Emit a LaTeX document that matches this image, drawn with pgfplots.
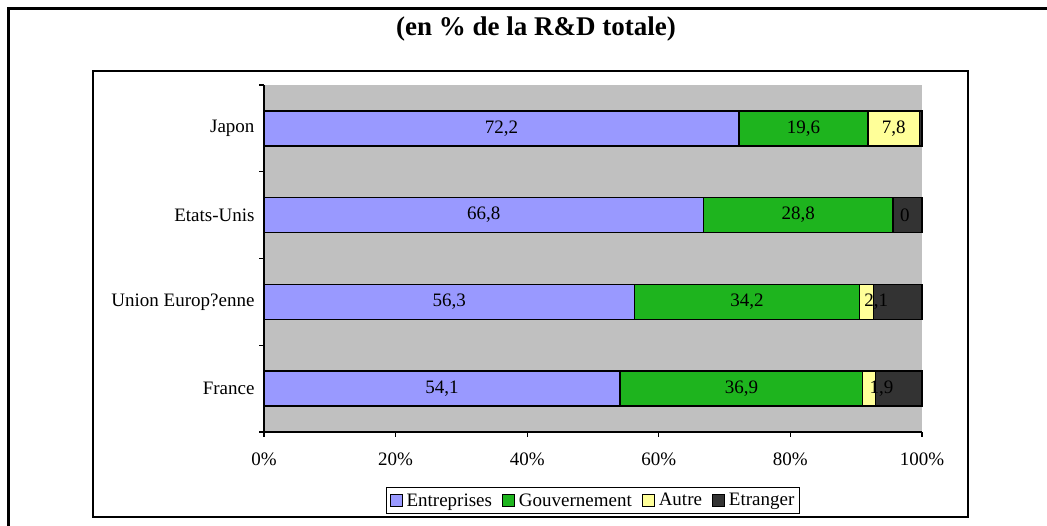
\documentclass[border=0pt]{standalone}
\usepackage{fontspec}
\setmainfont{Liberation Serif}
\usepackage{pgfplots}
\pgfplotsset{compat=1.18}
\usepackage{pgfplotstable}

\definecolor{ent}{HTML}{9999FF}
\definecolor{gov}{HTML}{1EB41E}
\definecolor{aut}{HTML}{FFFF99}
\definecolor{etr}{HTML}{333333}
\definecolor{plotbg}{HTML}{C0C0C0}

% y: 0 = France ... 3 = Japon ; dx = sideways nudge (in %) of the Autre label
\pgfplotstableread{
y ent gov aut etr dx
0 54.1 36.9 1.9 7.1 1.9
1 56.3 34.2 2.1 7.4 1.5
2 66.8 28.8 0.0 4.4 1.8
3 72.2 19.6 7.8 0.4 0
}\rd

\newcommand\lbl{\fontsize{19}{22}\selectfont}

\pgfplotsset{
  frame/.style={
    at={(264pt,94pt)}, anchor=south west,
    scale only axis,
    width=658pt, height=347pt,
    xmin=0, xmax=100,
    ymin=-0.5, ymax=3.5,
    clip=false,
    /pgf/number format/assume math mode=true,
  },
  seg/.style={fill=#1, draw=black, line width=1.3pt, forget plot},
  lab/.style={
    draw=none, mark=none,
    nodes near coords={\pgfmathprintnumber[use comma,fixed,precision=1,assume math mode=true]{\pgfplotspointmeta}},
    point meta=explicit,
    every node near coord/.append style={anchor=center, text=black, font=\lbl},
  },
}

\begin{document}
\begin{tikzpicture}[x=1pt,y=1pt]
\useasboundingbox (0,0) rectangle (1047,526);
\draw[line width=3pt] (8,0) -- (8,517.5) -- (1047,517.5);
\draw[line width=2pt] (92.5,9) rectangle (968,455);
\node[font=\bfseries\fontsize{27}{31}\selectfont] at (536,497) {(en \% de la R\&D totale)};

\begin{axis}[
    frame,
    xbar stacked,
    bar width=35pt,
    axis x line*=bottom, axis y line*=left,
    x axis line style={-, line width=1.3pt},
    y axis line style={-, line width=1.3pt},
    axis background/.style={fill=plotbg},
    tick align=outside,
    major tick length=5pt,
    every tick/.style={black, line width=1.3pt},
    xtick={0,20,...,100},
    xticklabel={\pgfmathprintnumber{\tick}\%},
    ytick={-0.5,0.5,1.5,2.5,3.5},
    yticklabels={},
    extra y ticks={0,1,2,3},
    extra y tick labels={France,Union Europ?enne,Etats-Unis,Japon},
    extra y tick style={major tick length=0pt},
    tick label style={font=\lbl},
    xticklabel style={yshift=-12pt},
    yticklabel style={xshift=-6pt},
    legend columns=4,
    legend style={at={(0.5,-0.158)}, anchor=north, draw=black, line width=1.2pt,
      font=\lbl, inner xsep=3pt, inner ysep=4pt,
      /tikz/every even column/.append style={column sep=8pt},
      /tikz/every odd column/.append style={column sep=2pt}},
    legend image code/.code={\draw[#1, line width=0.9pt] (0pt,-6pt) rectangle (12pt,6pt);},
]
\addplot[seg=ent] table[x=ent, y=y]{\rd};
\addplot[seg=gov] table[x=gov, y=y]{\rd};
\addplot[seg=aut] table[x=aut, y=y]{\rd};
\addplot[seg=etr] table[x=etr, y=y]{\rd};
\addlegendimage{fill=ent, draw=black}\addlegendentry{Entreprises}
\addlegendimage{fill=gov, draw=black}\addlegendentry{Gouvernement}
\addlegendimage{fill=aut, draw=black}\addlegendentry{Autre}
\addlegendimage{fill=etr, draw=black}\addlegendentry{Etranger}
\end{axis}

% data labels, centred in each segment
\begin{axis}[frame, hide axis]
\addplot[lab] table[x expr=\thisrow{ent}/2, y=y, meta=ent]{\rd};
\addplot[lab] table[x expr=\thisrow{ent}+\thisrow{gov}/2, y=y, meta=gov]{\rd};
\addplot[lab] table[x expr=\thisrow{ent}+\thisrow{gov}+\thisrow{aut}/2+\thisrow{dx}, y=y, meta=aut]{\rd};
\end{axis}
\end{tikzpicture}
\end{document}
